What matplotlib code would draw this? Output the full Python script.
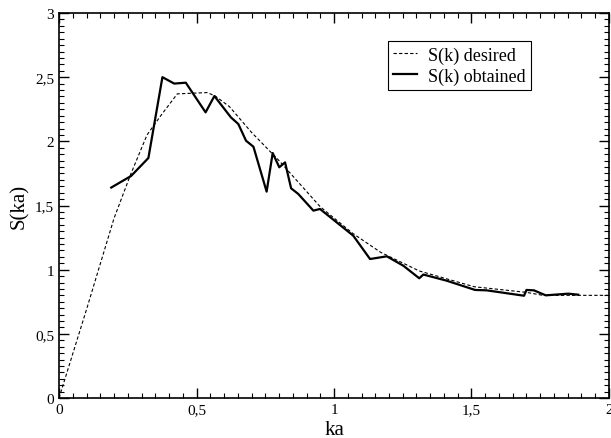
import matplotlib.pyplot as plt
from matplotlib.ticker import MultipleLocator, FuncFormatter

# desired S(k)
ka_des = [0, 0.1, 0.2, 0.26, 0.32, 0.37, 0.43, 0.54, 0.57, 0.62, 0.7, 0.8, 0.95,
          1.07, 1.17, 1.31, 1.51, 1.70, 1.76, 2.0]
s_des = [0, 0.69, 1.40, 1.74, 2.05, 2.20, 2.37, 2.38, 2.35, 2.27, 2.07, 1.85, 1.49,
         1.28, 1.135, 0.99, 0.867, 0.823, 0.80, 0.80]

# obtained S(k)
ka_obt = [0.19, 0.262, 0.325, 0.376, 0.419, 0.461, 0.533, 0.565, 0.625, 0.652, 0.68,
          0.707, 0.755, 0.777, 0.801, 0.822, 0.844, 0.870, 0.925, 0.949, 1.07,
          1.131, 1.192, 1.252, 1.31, 1.325, 1.41, 1.513, 1.555, 1.691, 1.70,
          1.727, 1.77, 1.852, 1.888]
s_obt = [1.64, 1.73, 1.87, 2.50, 2.45, 2.457, 2.226, 2.353, 2.187, 2.135, 2.005,
         1.958, 1.608, 1.909, 1.798, 1.836, 1.634, 1.59, 1.46, 1.473, 1.265,
         1.083, 1.104, 1.031, 0.933, 0.962, 0.914, 0.842, 0.839, 0.797, 0.842,
         0.839, 0.80, 0.813, 0.805]

plt.rcParams['font.family'] = ['Liberation Serif', 'DejaVu Serif']

fig = plt.figure(figsize=(6.11, 4.39), dpi=100)
ax = fig.add_axes([0.0966, 0.0911, 0.9001, 0.877])

ax.plot(ka_des, s_des, '--', color='black', linewidth=0.8, dashes=(3, 2),
        label='S(k) desired')
ax.plot(ka_obt, s_obt, '-', color='black', linewidth=1.6, label='S(k) obtained')

ax.set_xlim(0, 2)
ax.set_ylim(0, 3)
ax.xaxis.set_major_locator(MultipleLocator(0.5))
ax.xaxis.set_minor_locator(MultipleLocator(0.05))
ax.yaxis.set_major_locator(MultipleLocator(0.5))
ax.yaxis.set_minor_locator(MultipleLocator(0.05))

fmt = FuncFormatter(lambda v, p: '{:g}'.format(v).replace('.', ','))
ax.xaxis.set_major_formatter(fmt)
ax.yaxis.set_major_formatter(fmt)

ax.tick_params(which='both', direction='in', top=True, right=True, labelsize=11)
ax.tick_params(which='major', length=7, width=1)
ax.tick_params(which='minor', length=3.5, width=0.8)
for sp in ax.spines.values():
    sp.set_linewidth(1.2)

ax.set_xlabel('ka', fontsize=15, labelpad=3)
ax.set_ylabel('S(ka)', fontsize=15, labelpad=4)

leg = ax.legend(loc='upper left', bbox_to_anchor=(0.598, 0.927), fontsize=13,
                fancybox=False, edgecolor='black', framealpha=1,
                handlelength=1.3, handletextpad=0.63, borderpad=0.3,
                labelspacing=0.2, borderaxespad=0)
leg.get_frame().set_linewidth(0.8)

plt.savefig('out.png', dpi=100)
